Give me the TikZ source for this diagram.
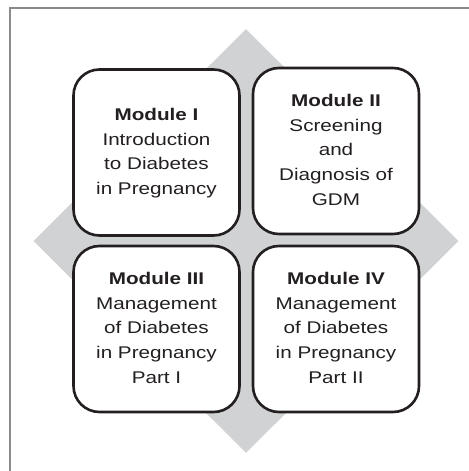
\documentclass[tikz,border=0pt]{standalone}
\usepackage{fontspec}
\usepackage{xcolor}
\usepackage{graphicx}
\usepackage{tikz}
\usetikzlibrary{shapes.geometric}
\newfontfamily\modfont{Liberation Sans}
\newcommand{\modtext}[1]{\scalebox{1.22}[1]{\begin{tabular}{@{}c@{}}#1\end{tabular}}}
\definecolor{frameG}{HTML}{8A8A8A}
\definecolor{diamondG}{HTML}{D1D2D4}
\definecolor{boxK}{HTML}{231F20}

\begin{document}
\begin{tikzpicture}[
    x=1bp, y=-1bp,
    modbox/.style={rectangle, rounded corners=26bp, draw=boxK, line width=2.6bp, fill=white,
        minimum width=166bp, minimum height=166bp, inner sep=0pt, align=center,
        text=boxK, font=\modfont\fontsize{17}{25}\selectfont}
]
\useasboundingbox (0,0) rectangle (469,471);
% frame and backdrop
\draw[frameG, line width=1.8bp] (10,475) -- (10,8) -- (475,8);
\node[diamond, fill=diamondG, minimum width=425bp, minimum height=424bp, inner sep=0pt] (backdrop) at (246,241) {};
% the four modules
\node[modbox] (mod1) at (156.5,152.5) {\modtext{\textbf{Module I}\\Introduction\\to Diabetes\\in Pregnancy}};
\node[modbox] (mod2) at (336,151) {\modtext{\textbf{Module II}\\Screening\\and\\Diagnosis of\\GDM}};
\node[modbox] (mod3) at (156.5,329) {\modtext{\textbf{Module III}\\Management\\of Diabetes\\in Pregnancy\\Part I}};
\node[modbox] (mod4) at (336,329) {\modtext{\textbf{Module IV}\\Management\\of Diabetes\\in Pregnancy\\Part II}};
\end{tikzpicture}
\end{document}
